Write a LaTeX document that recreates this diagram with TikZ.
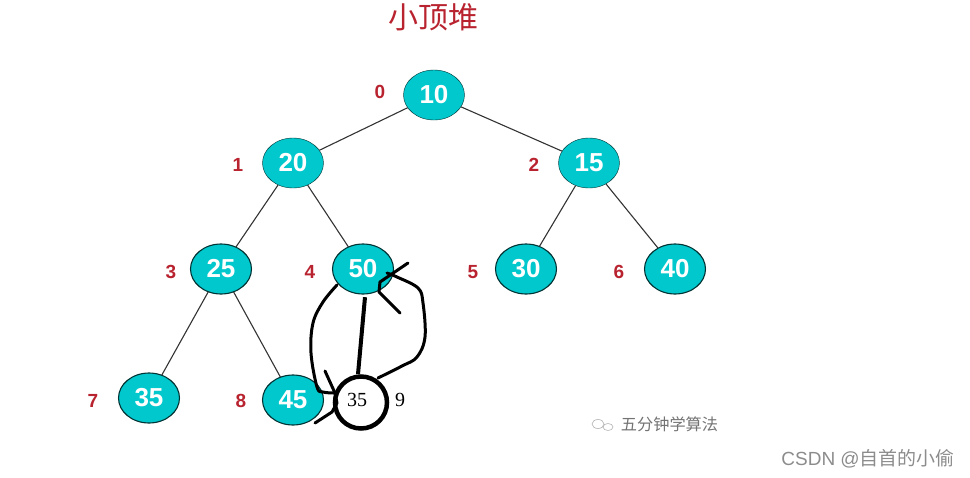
\documentclass[tikz,border=0pt]{standalone}
\usepackage{fontspec}
\setmainfont{Liberation Sans}
\newfontfamily\cjk{Noto Sans CJK SC}
\newfontfamily\penfont{Liberation Serif}
\usepackage{tikz}
\usetikzlibrary{shapes.geometric}
\definecolor{heapfill}{HTML}{00C8CC}
\definecolor{heapred}{HTML}{B8232F}
\tikzset{
  heapnode/.style={ellipse,draw=black!75!heapfill,fill=heapfill,text=white,inner sep=0pt,
    minimum width=61pt,minimum height=50pt,font=\fontsize{26}{26}\selectfont\bfseries},
  idx/.style={text=heapred,inner sep=0pt,font=\fontsize{19}{19}\selectfont\bfseries},
  pennode/.style={circle,draw=black,line width=4.5pt,minimum size=52pt,inner sep=0pt},
  pentext/.style={text=black,inner sep=0pt,font=\penfont\fontsize{20}{20}\selectfont},
  penline/.style={draw=black,line width=3pt,line cap=round,line join=round},
  wmark/.style={text=black!55,inner sep=0pt}
}
\begin{document}
\begin{tikzpicture}[edge from parent/.style={draw=black!80,line width=1.1pt},
  level 1/.style={sibling distance=296pt,level distance=68pt},
  level 2/.style={sibling distance=142pt,level distance=106pt},
  level 3/.style={sibling distance=144pt,level distance=131pt}]
\useasboundingbox (0pt,0pt) rectangle (970pt,-477pt);
\node [heapnode] (a) at (434pt,-95pt) {10}
	child[xshift=7pt]{node [heapnode] (b) {20}
		child[xshift=-1pt]{node [heapnode] (d) {25}
			child[yshift=2pt]{node [heapnode] (h) {35}}
			child{node [heapnode] (i) {45}}
		}
		child[xshift=-1pt]{node [heapnode] (e) {50}
			child[xshift=-2pt,yshift=-2.5pt,edge from parent path={([xshift=2pt,yshift=-3pt]\tikzparentnode.south) -- ([xshift=-3pt]\tikzchildnode.north)}]{node [pennode,label={[pentext,xshift=-4pt,yshift=3pt]center:35}] (j) {}
				edge from parent[draw=black,line width=4pt]}
		}
	}
	child[xshift=7pt]{node [heapnode] (c) {15}
		child[sibling distance=149pt,xshift=11.5pt]{node [heapnode] (f) {30}}
		child[sibling distance=149pt,xshift=11.5pt]{node [heapnode] (g) {40}}
	};
% index labels
\node [idx] (i0) at (380pt,-92pt) {0};
\node [idx] (i1) at (238pt,-165pt) {1};
\node [idx] (i2) at (534pt,-165pt) {2};
\node [idx] (i3) at (171pt,-272pt) {3};
\node [idx] (i4) at (310pt,-272pt) {4};
\node [idx] (i5) at (473pt,-272pt) {5};
\node [idx] (i6) at (619pt,-272pt) {6};
\node [idx] (i7) at (93pt,-401pt) {7};
\node [idx] (i8) at (241pt,-401pt) {8};
\node [pentext] (i9) at (400pt,-400pt) {9};
% title and marks
\node [text=heapred,inner sep=0pt,font=\cjk\fontsize{30}{30}\selectfont] (title) at (433pt,-17pt) {小顶堆};
\node [wmark,font=\cjk\fontsize{16.2}{17}\selectfont] (wx) at (669.5pt,-424pt) {五分钟学算法};
\draw [black!30,line width=0.6pt] (598pt,-424pt) ellipse (6pt and 4.5pt);
\draw [black!30,line width=0.6pt] (608pt,-427pt) ellipse (5pt and 3.5pt);
\node [text=black!45,inner sep=0pt,anchor=east,font=\fontsize{19}{19}\selectfont] (csdn) at (955pt,-459pt) {CSDN @{\cjk 自首的小偷}};
% pen strokes
\draw [penline] plot[smooth,tension=0.6] coordinates {(337pt,-285pt) (323pt,-302pt) (313pt,-323pt) (311pt,-353pt) (317pt,-387pt) (323pt,-392pt) (334pt,-393pt)};
\draw [penline] (325pt,-371pt) -- (335pt,-393pt) -- (337pt,-403pt) -- (332pt,-412pt) -- (315pt,-423pt);
\draw [penline] plot[smooth,tension=0.6] coordinates {(378pt,-378pt) (402pt,-366pt) (417pt,-357pt) (425pt,-337pt) (423pt,-303pt) (418pt,-288pt) (397pt,-277pt) (387pt,-273pt)};
\draw [penline] (408pt,-263pt) -- (380pt,-282pt) -- (379pt,-292pt) -- (400pt,-313pt);
\end{tikzpicture}
\end{document}
